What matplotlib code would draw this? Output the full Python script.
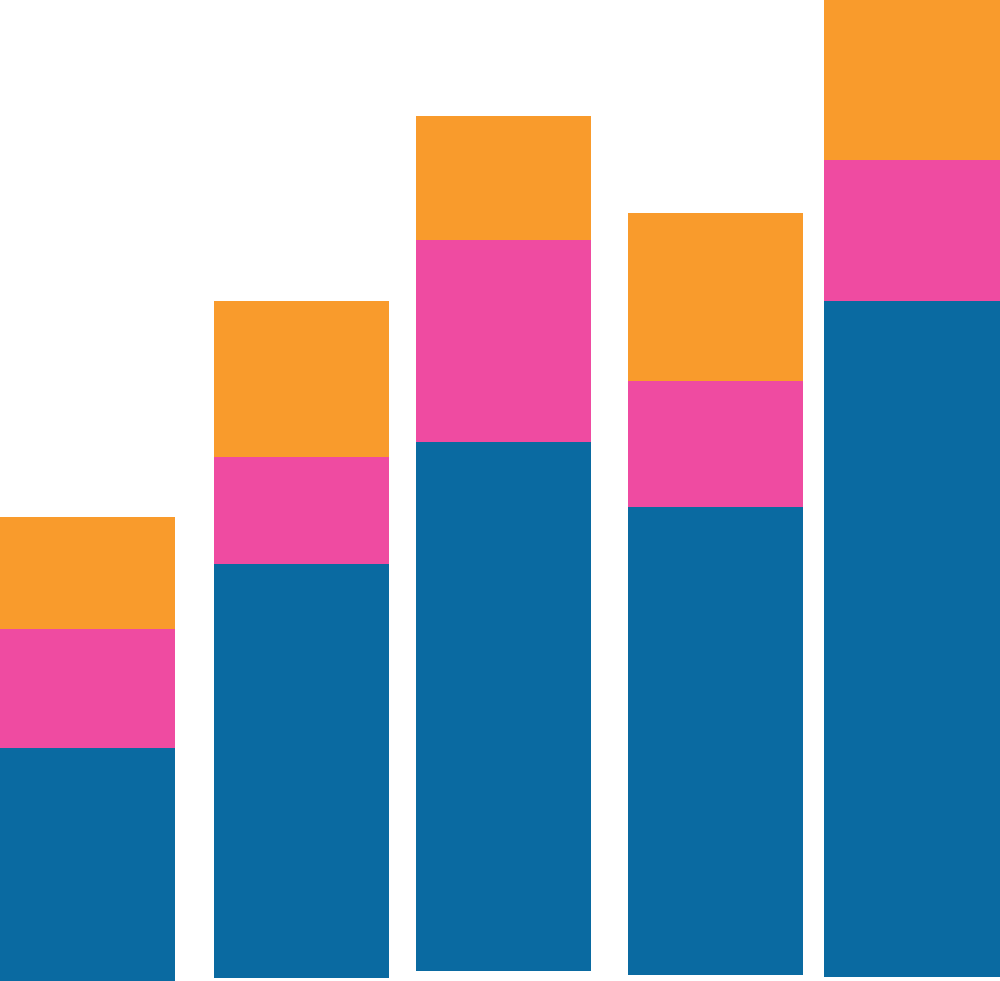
import matplotlib
matplotlib.use('agg')
import matplotlib.pyplot as plt
import numpy as np

# stacked segments, bottom to top
categories = ['A', 'B', 'C', 'D', 'E']
base = [0, 3, 10, 6, 4]
blue = [233, 414, 529, 468, 676]
pink = [119, 107, 202, 126, 141]
orange = [112, 156, 124, 168, 160]

# bars are not evenly spaced in the original, so place them by hand (pixel units)
slots = np.array([87.5, 301.5, 503.5, 715.5, 912.0])
width = 175.5

fig = plt.figure(figsize=(10, 9.81), dpi=100)
ax = fig.add_axes([0, 0, 1, 1])

bottom = np.array(base, dtype=float)
for vals, col in [(blue, '#0a6aa1'), (pink, '#ef4ba1'), (orange, '#f99b2c')]:
    ax.bar(slots, vals, width=width, bottom=bottom, color=col, linewidth=0)
    bottom = bottom + np.array(vals)

ax.set_xlim(0, 1000)
ax.set_ylim(0, 981)
ax.axis('off')

fig.savefig('out.png', facecolor='white')
plt.close(fig)
